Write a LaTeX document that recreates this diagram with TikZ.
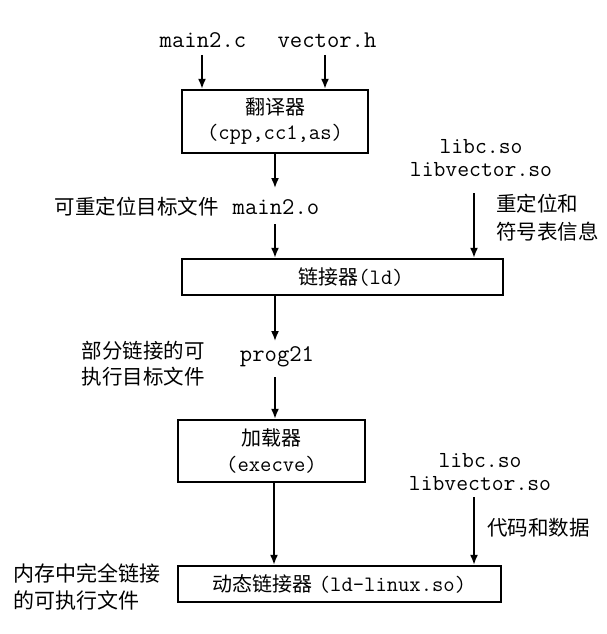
\documentclass[tikz,border=0pt]{standalone}
\usepackage{fontspec}
\setmainfont{Noto Sans CJK SC}
\usetikzlibrary{arrows.meta}
\begin{document}
\begin{tikzpicture}[x=1pt,y=-1pt,
  cjk/.style={font=\fontsize{20.5}{27}\selectfont, inner sep=0pt},
  code/.style={font=\fontsize{24}{22}\selectfont\ttfamily, inner sep=0pt},
  stagebox/.style={draw, line width=2.4pt, inner sep=0pt, align=center},
  boxtext/.style={inner sep=0pt, align=center},
  arr/.style={line width=1.6pt, -{Latex[length=10pt,width=8pt]}}]
\useasboundingbox (0,0) rectangle (606,634);
% sources
\node[code] (main2c) at (203,40) {main2.c};
\node[code] (vectorh) at (327,40) {vector.h};
% translator
\node[stagebox, minimum width=186pt, minimum height=63pt] (trans) at (275,121.5) {};
\node[boxtext, font=\fontsize{20}{25}\selectfont] (transtxt) at (trans.center)
  {翻译器\\{\ttfamily\fontsize{22}{25}\selectfont (cpp,cc1,as)}};
\coordinate (s1) at (202,55);
\coordinate (s2) at (325,55);
\draw[arr] (s1) -- (s1 |- trans.north);
\draw[arr] (s2) -- (s2 |- trans.north);
% main2.o
\node[code] (main2o) at (276,207) {main2.o};
\node[cjk, anchor=east] (reloc) at (219,207) {可重定位目标文件};
\coordinate (m1) at (275,188);
\draw[arr] (m1 |- trans.south) -- (m1);
% libs 1
\node[code, align=center, font=\fontsize{23}{23}\selectfont\ttfamily] (libs1) at (481,158) {libc.so\\libvector.so};
\node[cjk, align=left, anchor=west, font=\fontsize{20.5}{28}\selectfont] (relinfo) at (496,218) {重定位和\\符号表信息};
% linker
\node[stagebox, minimum width=321pt, minimum height=36pt] (linker) at (342.5,277) {};
\node[boxtext] (linkertxt) at (351,277)
  {\fontsize{20}{24}\selectfont 链接器{\ttfamily\fontsize{22}{24}\selectfont (ld)}};
\coordinate (r1top) at (474,193);
\draw[arr] (r1top) -- (r1top |- linker.north);
\coordinate (m2top) at (275,224);
\draw[arr] (m2top) -- (m2top |- linker.north);
% prog21
\node[code] (prog) at (277,357) {prog21};
\node[cjk, align=center, font=\fontsize{20.5}{26}\selectfont] (partial) at (143,364) {部分链接的可\\执行目标文件};
\coordinate (p1) at (275,341);
\draw[arr] (p1 |- linker.south) -- (p1);
% loader
\node[stagebox, minimum width=187pt, minimum height=62pt] (loader) at (271.5,451) {};
\node[boxtext, font=\fontsize{20}{26}\selectfont] (loadertxt) at (loader.center)
  {加载器\\{\ttfamily\fontsize{22}{26}\selectfont (execve)}};
\coordinate (p2) at (275,377);
\draw[arr] (p2) -- (p2 |- loader.north);
% libs 2
\node[code, align=center, font=\fontsize{23}{23}\selectfont\ttfamily] (libs2) at (480,472) {libc.so\\libvector.so};
\node[cjk, anchor=west] (codedata) at (487,528) {代码和数据};
% dynamic linker
\node[stagebox, minimum width=323pt, minimum height=36pt] (dyn) at (339.5,584) {};
\node[boxtext] (dyntxt) at (dyn.center)
  {\fontsize{20}{24}\selectfont 动态链接器\hspace{6pt}{\ttfamily\fontsize{22}{24}\selectfont\addfontfeature{LetterSpace=12}(ld-linux.so)}};
\coordinate (r2top) at (474,497);
\draw[arr] (r2top) -- (r2top |- dyn.north);
\coordinate (l2) at (274,482);
\draw[arr] (l2 |- loader.south) -- (l2 |- dyn.north);
\node[cjk, align=left, anchor=west, font=\fontsize{21}{27}\selectfont] (full) at (13,586.5) {内存中完全链接\\的可执行文件};
\end{tikzpicture}
\end{document}
